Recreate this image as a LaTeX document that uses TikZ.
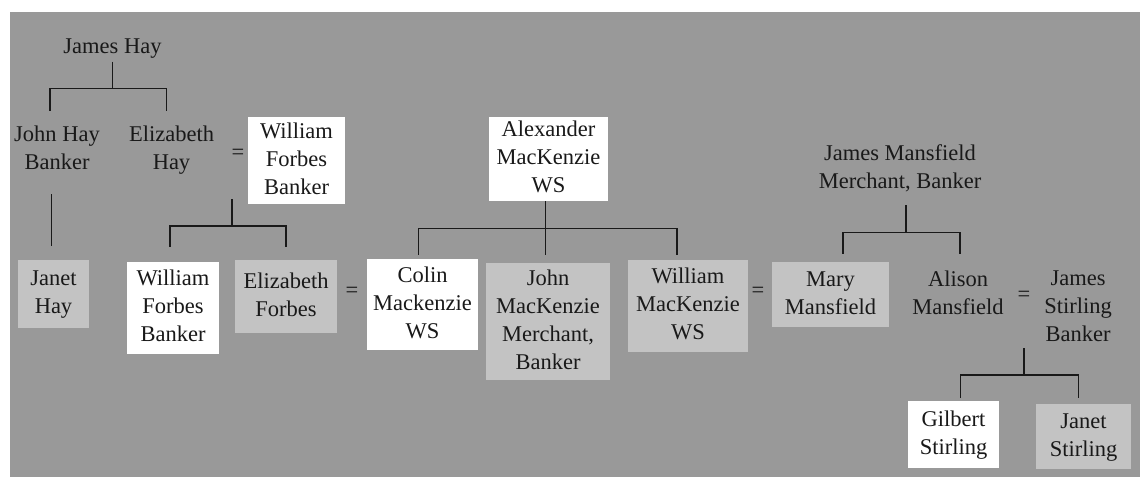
\documentclass[tikz,border=0pt]{standalone}
\usepackage{fontspec}
\setmainfont{Liberation Serif}
\usetikzlibrary{calc}
\definecolor{bggray}{RGB}{153,153,153}
\definecolor{lightbox}{RGB}{195,195,195}
\definecolor{inkc}{RGB}{25,25,25}
\tikzset{
  person/.style={inner sep=0pt, align=center, text=inkc, font=\fontsize{22.5}{28}\selectfont},
  whitebox/.style={person, fill=white},
  greybox/.style={person, fill=lightbox},
  conn/.style={draw=inkc, line width=1.3pt},
  eqsign/.style={inner sep=0pt, text=inkc, font=\fontsize{22.5}{28}\selectfont},
}
\begin{document}
\begin{tikzpicture}[x=1pt, y=-1pt]
\useasboundingbox (0,0) rectangle (1140,477);
\fill[bggray] (10,12) rectangle (1140,477);

% generation 1
\node[person] (jameshay) at (112.5,47.4) {\strut James Hay};
\node[person] (johnhay) at (57,150) {\strut John Hay\\\strut Banker};
\node[person] (elizhay) at (171.5,150) {\strut Elizabeth\\\strut Hay};
\node[eqsign] (eq1) at (238,154) {=};
\node[whitebox, minimum width=97pt, minimum height=87pt] (wf1) at (296.5,160.5) {\strut William\\\strut Forbes\\\strut Banker};
\node[whitebox, minimum width=119pt, minimum height=82pt] (am) at (548.5,159) {\strut Alexander\\\strut MacKenzie\\\strut WS};
\node[person] (jmf) at (900,169) {\strut James Mansfield\\\strut Merchant, Banker};

% generation 2
\node[greybox, minimum width=71pt, minimum height=68pt] (janethay) at (53.5,294) {\strut Janet\\\strut Hay};
\node[whitebox, minimum width=92pt, minimum height=92pt] (wf2) at (173,308) {\strut William\\\strut Forbes\\\strut Banker};
\node[greybox, minimum width=102pt, minimum height=73pt] (ef) at (286,296.5) {\strut Elizabeth\\\strut Forbes};
\node[eqsign] (eq2) at (352,292) {=};
\node[whitebox, minimum width=111pt, minimum height=91pt] (cm) at (422.5,304.5) {\strut Colin\\\strut Mackenzie\\\strut WS};
\node[greybox, minimum width=124pt, minimum height=117pt] (jm) at (548,321.5) {\strut John\\\strut MacKenzie\\\strut Merchant,\\\strut Banker};
\node[greybox, minimum width=120pt, minimum height=92pt] (wm) at (688,306) {\strut William\\\strut MacKenzie\\\strut WS};
\node[eqsign] (eq3) at (758,292) {=};
\node[greybox, minimum width=117pt, minimum height=65pt] (mm) at (830.5,294.5) {\strut Mary\\\strut Mansfield};
\node[person] (alm) at (958,295) {\strut Alison\\\strut Mansfield};
\node[eqsign] (eq4) at (1024,296) {=};
\node[person] (jst) at (1078,307.4) {\strut James\\\strut Stirling\\\strut Banker};

% generation 3
\node[whitebox, minimum width=91pt, minimum height=67pt] (gs) at (953.5,434.5) {\strut Gilbert\\\strut Stirling};
\node[greybox, minimum width=95pt, minimum height=65pt] (js) at (1083.5,436.5) {\strut Janet\\\strut Stirling};

% connectors: James Hay
\coordinate (busA) at ($(jameshay.south)+(0,27)$);
\draw[conn] (jameshay.south) -- (busA);
\draw[conn] ($(johnhay.north)+(-7,-11)$) |- (busA) -| ($(elizhay.north)+(-5,-11)$);
\draw[conn] ($(johnhay.south -| janethay.north)+(-2,16)$) -- ($(janethay.north)+(-2,-14)$);

% Elizabeth Hay = William Forbes
\coordinate (busB) at ($(eq1)+(-6,72)$);
\draw[conn] ($(eq1)+(-6,45)$) -- (busB);
\draw[conn] ($(wf2.north)+(-3,-15)$) |- (busB) -| ($(ef.north)+(0,-13)$);

% Alexander MacKenzie
\coordinate (busC) at ($(am.south)+(-3,27)$);
\draw[conn] ($(am.south)+(-3,0)$) -- (busC);
\draw[conn] ($(cm.north)+(-4,-4)$) |- (busC) -| ($(wm.north)+(-11,-5)$);
\draw[conn] (busC) -- ($(busC |- jm.north)+(0,-8)$);

% James Mansfield
\coordinate (busD) at ($(jmf.south)+(6,35)$);
\draw[conn] ($(jmf.south)+(6,8)$) -- (busD);
\draw[conn] ($(mm.north)+(12.5,-8)$) |- (busD) -| ($(alm.north)+(2,-13)$);

% Alison Mansfield = James Stirling
\coordinate (busE) at ($(eq4)+(0,79)$);
\draw[conn] ($(eq4)+(0,52)$) -- (busE);
\draw[conn] ($(gs.north)+(7,-3)$) |- (busE) -| ($(js.north)+(-5,-6)$);
\end{tikzpicture}
\end{document}
